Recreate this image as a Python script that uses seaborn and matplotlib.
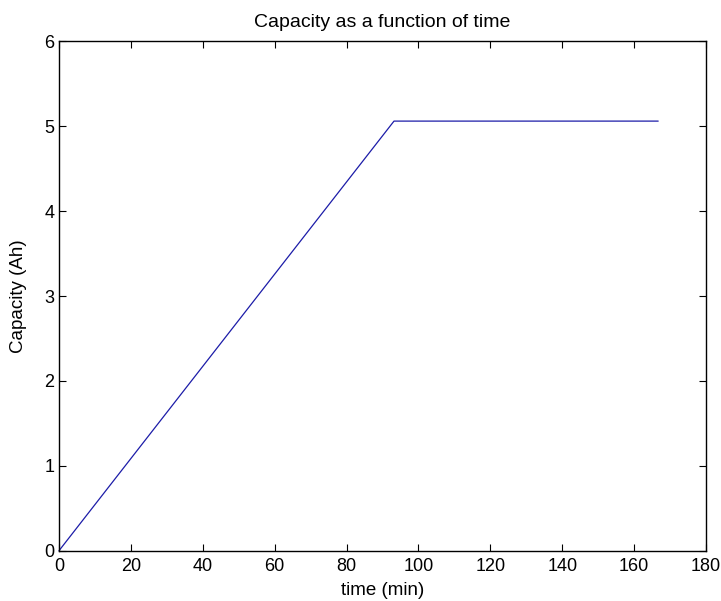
import matplotlib
matplotlib.use("Agg")
import matplotlib.pyplot as plt
import seaborn as sns
import pandas as pd

time_min = [0.0, 93.2, 166.7]
capacity_ah = [0.0, 5.06, 5.06]
x_ticks = [0, 20, 40, 60, 80, 100, 120, 140, 160, 180]
y_ticks = [0, 1, 2, 3, 4, 5, 6]

sns.set_style("ticks")
plt.rcParams['font.family'] = ['Liberation Sans', 'DejaVu Sans']
plt.rcParams['text.color'] = 'black'
plt.rcParams['axes.labelcolor'] = 'black'

df = pd.DataFrame({"time": time_min, "cap": capacity_ah})

fig = plt.figure(figsize=(7.21, 6.01), dpi=100)
ax = fig.add_axes([59/721, 1 - 550.7/601, (706-59)/721, (550.7-41.3)/601])
sns.lineplot(data=df, x="time", y="cap", ax=ax, color="#1c1ca8", linewidth=0.9, clip_on=False)

ax.set_xlim(0, 180)
ax.set_ylim(0, 6)
ax.set_xticks(x_ticks)
ax.set_yticks(y_ticks)
fs = 13
ax.tick_params(axis="x", pad=5)
ax.tick_params(direction="in", length=5, width=0.8, top=True, right=True,
               labelsize=fs, colors="black")
for s in ax.spines.values():
    s.set_visible(True)
    s.set_linewidth(1.0)
    s.set_color("black")
ax.set_xlabel("time (min)", fontsize=13.5, labelpad=5)
ax.set_ylabel("Capacity (Ah)", fontsize=13.5, labelpad=12)
ax.set_title("Capacity as a function of time", fontsize=14, pad=10)
fig.savefig("out.png", dpi=100)
